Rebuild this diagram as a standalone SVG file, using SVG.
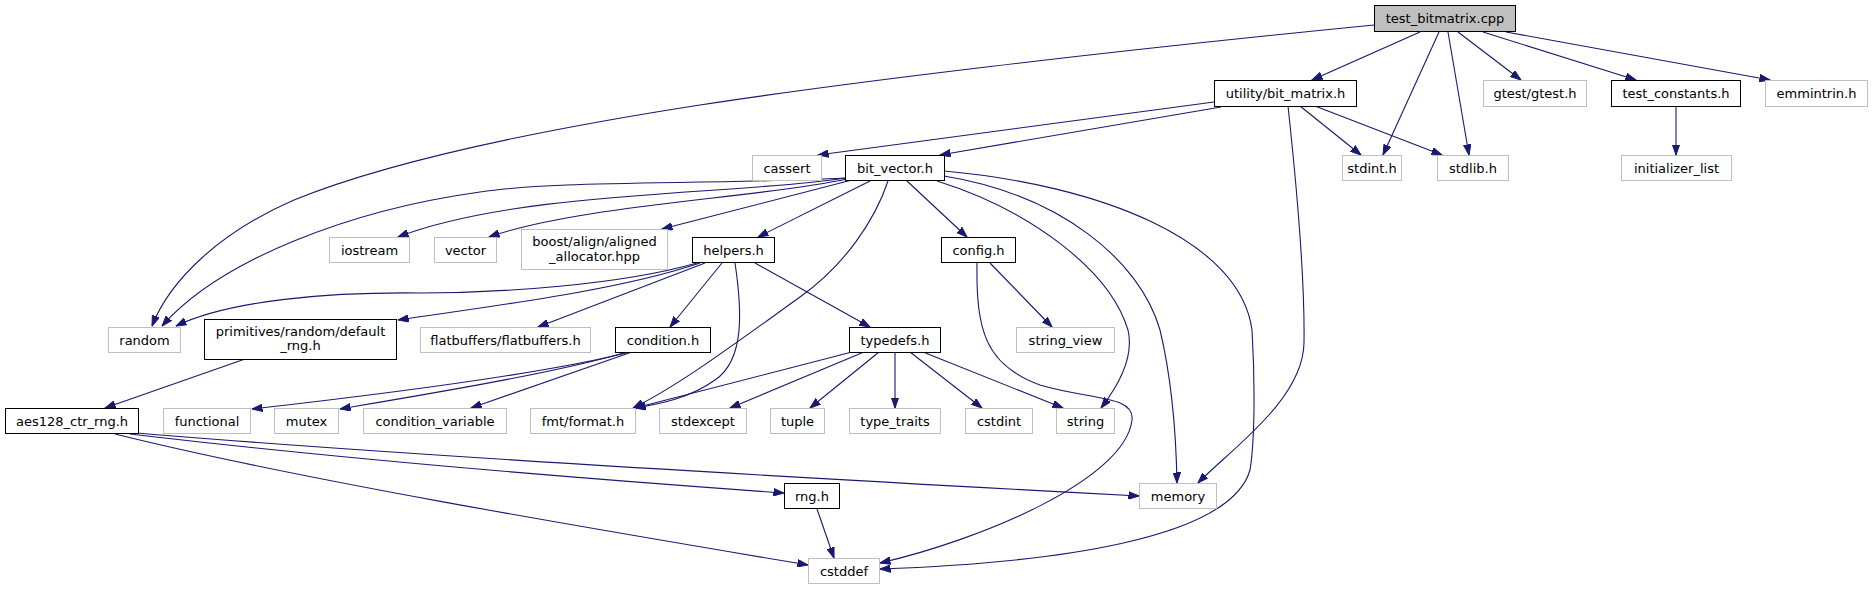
<svg xmlns="http://www.w3.org/2000/svg" width="1873" height="589" viewBox="0 0 1873 589">
<style>
.n rect{fill:#fff;stroke:#000;stroke-width:1}
.l rect{fill:#fff;stroke:#bfbfbf;stroke-width:1}
.r rect{fill:#bfbfbf;stroke:#000;stroke-width:1}
text{font-family:"DejaVu Sans","Liberation Sans",sans-serif;font-size:13px;fill:#000;text-anchor:middle}
#edges path{fill:none;stroke:#191970;stroke-width:1.1;marker-end:url(#arr)}
</style>
<defs>
<marker id="arr" markerWidth="11" markerHeight="8" refX="10.5" refY="4" orient="auto" markerUnits="userSpaceOnUse">
<path d="M0,0.3 L10.5,4 L0,7.7 z" fill="#191970" stroke="#191970" stroke-width="1"/>
</marker>
</defs>
<rect width="1873" height="589" fill="#fff"/>
<g id="edges">
<path d="M1374,25 C1100,52 850,82 700,105 C520,133 380,165 294,200 C220,232 170,280 152,326"/>
<path d="M1420,32 L1312,80"/>
<path d="M1439,32 L1383,155"/>
<path d="M1448,32 L1469,155"/>
<path d="M1458,32 L1521,80"/>
<path d="M1483,32 L1636,80"/>
<path d="M1506,32 L1770,80"/>
<path d="M1676,106 L1676,155"/>
<path d="M1214,102 L818,155"/>
<path d="M1221,107 L940,155"/>
<path d="M1300,106 L1361,155"/>
<path d="M1315,106 L1442,155"/>
<path d="M1288,106 C1296,180 1305,280 1304,343 C1303,400 1230,450 1198,483"/>
<path d="M845,178 C700,185 560,180 480,192 C350,210 220,260 162,326"/>
<path d="M846,178 C740,195 520,190 398,237"/>
<path d="M847,179 C760,198 580,205 489,237"/>
<path d="M852,180 L662,229"/>
<path d="M870,181 L758,237"/>
<path d="M888,181 C875,220 845,265 800,297 C740,340 680,385 633,408"/>
<path d="M907,181 L967,237"/>
<path d="M937,181 C1030,210 1110,270 1128,330 C1135,360 1115,390 1101,408"/>
<path d="M944,176 C1060,195 1140,260 1160,330 C1172,380 1176,430 1177,483"/>
<path d="M944,171 C1100,185 1240,240 1252,330 C1255,380 1255,440 1250,470 C1230,540 1050,563 880,569"/>
<path d="M990,263 L1052,327"/>
<path d="M977,263 C976,330 985,365 1040,385 C1090,400 1135,395 1132,420 C1125,480 980,540 880,563"/>
<path d="M697,263 C620,285 500,293 420,293 C330,292 230,300 176,326"/>
<path d="M700,263 C620,290 500,305 398,320"/>
<path d="M705,263 L538,327"/>
<path d="M722,263 L670,327"/>
<path d="M735,263 C742,310 745,360 715,380 C690,398 660,404 635,408"/>
<path d="M755,263 L870,327"/>
<path d="M630,352 C560,370 420,390 252,409"/>
<path d="M627,352 C560,372 440,392 340,409"/>
<path d="M632,352 L471,408"/>
<path d="M852,352 L635,408"/>
<path d="M864,352 L730,408"/>
<path d="M879,352 L810,408"/>
<path d="M895,352 L895,408"/>
<path d="M910,352 L982,408"/>
<path d="M923,352 L1063,408"/>
<path d="M245,359 L105,408"/>
<path d="M136,433 C400,455 800,478 1139,496"/>
<path d="M130,434 C350,460 600,480 784,493"/>
<path d="M115,434 C300,480 600,530 808,565"/>
<path d="M817,509 L834,558"/>
</g>
<g id="n_test_bitmatrix" class="r"><rect x="1374.5" y="5.5" width="141" height="26"/><text x="1445" y="22.5">test_bitmatrix.cpp</text></g>
<g id="n_bit_matrix" class="n"><rect x="1214.5" y="80.5" width="142" height="26"/><text x="1285.5" y="97.5">utility/bit_matrix.h</text></g>
<g id="n_gtest" class="l"><rect x="1483.5" y="80.5" width="103" height="26"/><text x="1535" y="97.5">gtest/gtest.h</text></g>
<g id="n_test_constants" class="n"><rect x="1611.5" y="80.5" width="129" height="26"/><text x="1676" y="97.5">test_constants.h</text></g>
<g id="n_emmintrin" class="l"><rect x="1765.5" y="80.5" width="102" height="26"/><text x="1816.5" y="97.5">emmintrin.h</text></g>
<g id="n_cassert" class="l"><rect x="752.5" y="155.5" width="69" height="25"/><text x="787" y="172.5">cassert</text></g>
<g id="n_bit_vector" class="n"><rect x="845.5" y="155.5" width="99" height="25"/><text x="895" y="172.5">bit_vector.h</text></g>
<g id="n_stdint_h" class="l"><rect x="1342.5" y="155.5" width="59" height="25"/><text x="1372" y="172.5">stdint.h</text></g>
<g id="n_stdlib_h" class="l"><rect x="1437.5" y="155.5" width="71" height="25"/><text x="1473" y="172.5">stdlib.h</text></g>
<g id="n_initializer_list" class="l"><rect x="1621.5" y="155.5" width="110" height="25"/><text x="1676.5" y="172.5">initializer_list</text></g>
<g id="n_iostream" class="l"><rect x="329.5" y="237.5" width="80" height="25"/><text x="369.5" y="254.5">iostream</text></g>
<g id="n_vector" class="l"><rect x="434.5" y="237.5" width="62" height="25"/><text x="465.5" y="254.5">vector</text></g>
<g id="n_boost" class="l"><rect x="521.5" y="229.5" width="146" height="40"/><text x="594.5" y="246">boost/align/aligned</text><text x="594.5" y="260.5">_allocator.hpp</text></g>
<g id="n_helpers" class="n"><rect x="692.5" y="237.5" width="82" height="25"/><text x="733.5" y="254.5">helpers.h</text></g>
<g id="n_config" class="n"><rect x="941.5" y="237.5" width="74" height="25"/><text x="978.5" y="254.5">config.h</text></g>
<g id="n_random" class="l"><rect x="108.5" y="327.5" width="72" height="25"/><text x="144.5" y="344.5">random</text></g>
<g id="n_default_rng" class="n"><rect x="204.5" y="319.5" width="192" height="40"/><text x="300.5" y="335.5">primitives/random/default</text><text x="300.5" y="350">_rng.h</text></g>
<g id="n_flatbuffers" class="l"><rect x="420.5" y="327.5" width="170" height="25"/><text x="505.5" y="344.5">flatbuffers/flatbuffers.h</text></g>
<g id="n_condition" class="n"><rect x="615.5" y="327.5" width="95" height="25"/><text x="663" y="344.5">condition.h</text></g>
<g id="n_typedefs" class="n"><rect x="849.5" y="327.5" width="91" height="25"/><text x="895" y="344.5">typedefs.h</text></g>
<g id="n_string_view" class="l"><rect x="1016.5" y="327.5" width="98" height="25"/><text x="1065.5" y="344.5">string_view</text></g>
<g id="n_aes128" class="n"><rect x="5.5" y="408.5" width="133" height="25"/><text x="72" y="425.5">aes128_ctr_rng.h</text></g>
<g id="n_functional" class="l"><rect x="163.5" y="408.5" width="87" height="25"/><text x="207" y="425.5">functional</text></g>
<g id="n_mutex" class="l"><rect x="274.5" y="408.5" width="64" height="25"/><text x="306.5" y="425.5">mutex</text></g>
<g id="n_condition_variable" class="l"><rect x="363.5" y="408.5" width="143" height="25"/><text x="435" y="425.5">condition_variable</text></g>
<g id="n_fmt" class="l"><rect x="530.5" y="408.5" width="105" height="25"/><text x="583" y="425.5">fmt/format.h</text></g>
<g id="n_stdexcept" class="l"><rect x="659.5" y="408.5" width="87" height="25"/><text x="703" y="425.5">stdexcept</text></g>
<g id="n_tuple" class="l"><rect x="770.5" y="408.5" width="54" height="25"/><text x="797.5" y="425.5">tuple</text></g>
<g id="n_type_traits" class="l"><rect x="849.5" y="408.5" width="91" height="25"/><text x="895" y="425.5">type_traits</text></g>
<g id="n_cstdint" class="l"><rect x="965.5" y="408.5" width="67" height="25"/><text x="999" y="425.5">cstdint</text></g>
<g id="n_string" class="l"><rect x="1056.5" y="408.5" width="58" height="25"/><text x="1085.5" y="425.5">string</text></g>
<g id="n_memory" class="l"><rect x="1139.5" y="483.5" width="77" height="25"/><text x="1178" y="500.5">memory</text></g>
<g id="n_rng" class="n"><rect x="784.5" y="483.5" width="55" height="25"/><text x="812" y="500.5">rng.h</text></g>
<g id="n_cstddef" class="l"><rect x="808.5" y="558.5" width="71" height="25"/><text x="844" y="575.5">cstddef</text></g>
</svg>
